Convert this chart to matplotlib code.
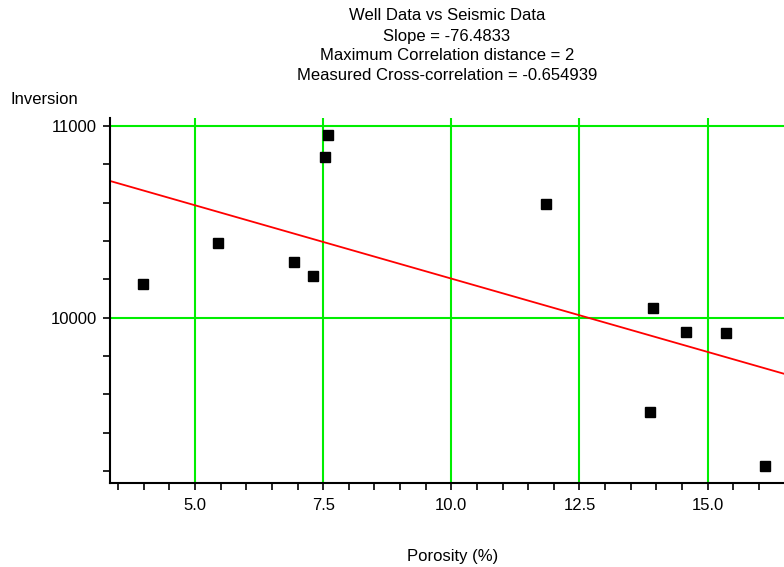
import numpy as np
import matplotlib.pyplot as plt
from matplotlib.ticker import MultipleLocator

plt.rcParams['font.family'] = ['Liberation Sans', 'DejaVu Sans']

# well porosity vs inverted impedance
porosity = [3.99, 5.44, 6.93, 7.30, 7.54, 7.59, 11.85, 13.93, 13.87, 14.58, 15.36, 16.12]
inversion = [10176, 10391, 10291, 10218, 10838, 10951, 10593, 10049, 9509, 9927, 9918, 9226]

slope = -76.4833
intercept = 10969.0
title_lines = ['Well Data vs Seismic Data',
               'Slope = -76.4833',
               'Maximum Correlation distance = 2',
               'Measured Cross-correlation = -0.654939']

fig = plt.figure(figsize=(7.84, 5.67), dpi=100)
ax = fig.add_axes([109.5 / 784, 84 / 567, (784 - 109.5) / 784, (483 - 118) / 567])

ax.set_xlim(3.33, 16.49)
ax.set_ylim(9138, 11042)

# green grid
for gx in [5.0, 7.5, 10.0, 12.5, 15.0]:
    ax.axvline(gx, color='#00ee00', lw=1.5, zorder=1)
for gy in [10000, 11000]:
    ax.axhline(gy, color='#00ee00', lw=1.5, zorder=1)

# regression line
xl = np.array(ax.get_xlim())
ax.plot(xl, intercept + slope * xl, color='#ff0000', lw=1.3, zorder=2)

ax.plot(porosity, inversion, 's', color='black', markersize=7.5, zorder=3)

ax.spines['top'].set_visible(False)
ax.spines['right'].set_visible(False)
ax.spines['left'].set_linewidth(1.5)
ax.spines['bottom'].set_linewidth(1.5)

ax.xaxis.set_major_locator(MultipleLocator(2.5))
ax.xaxis.set_minor_locator(MultipleLocator(0.5))
ax.yaxis.set_major_locator(MultipleLocator(1000))
ax.yaxis.set_minor_locator(MultipleLocator(200))
ax.xaxis.set_major_formatter(plt.FormatStrFormatter('%.1f'))
ax.tick_params(which='both', length=5, width=1.2, direction='out', labelsize=12)
ax.tick_params(axis='x', pad=6)
ax.tick_params(axis='y', pad=4)

for i, line in enumerate(title_lines):
    fig.text(447 / 784, 1 - (16 + 20 * i) / 567, line, ha='center', va='center', fontsize=12)
fig.text(10 / 784, 1 - 100 / 567, 'Inversion', ha='left', va='center', fontsize=12)
fig.text(453 / 784, 1 - 557 / 567, 'Porosity (%)', ha='center', va='center', fontsize=12)

fig.savefig('out.png', dpi=100)
